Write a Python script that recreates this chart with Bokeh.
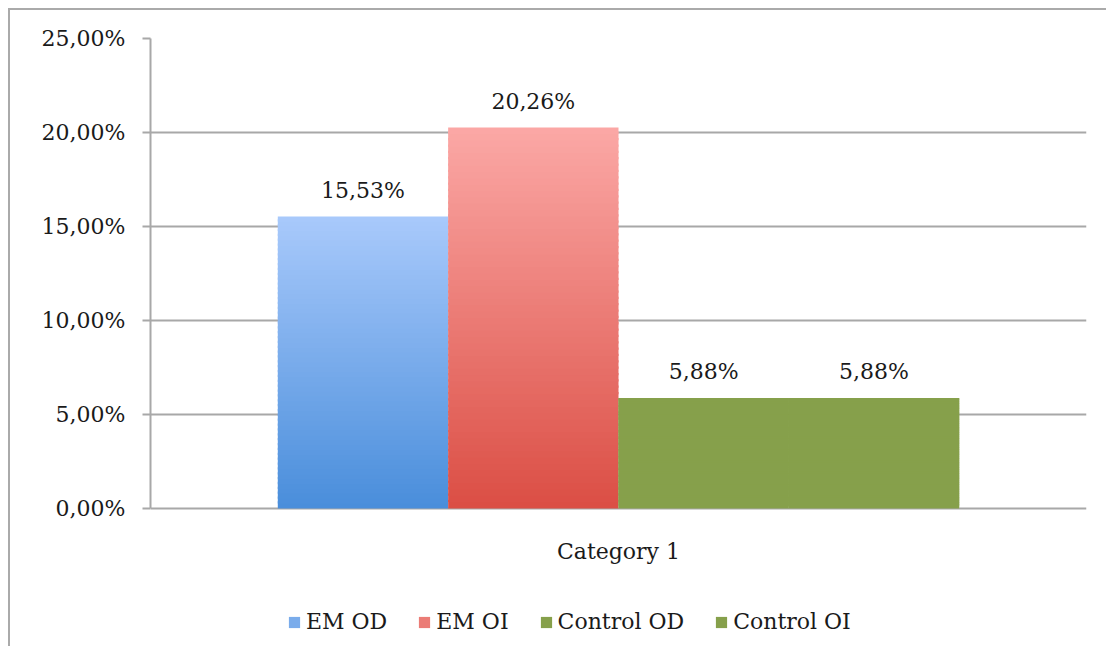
import numpy as np
from bokeh.plotting import figure
from bokeh.models import FactorRange, Range1d, FixedTicker, Legend, LegendItem, ColumnDataSource
from bokeh.transform import dodge
from bokeh.core.properties import value
from bokeh.embed import file_html
from bokeh.resources import INLINE

# ---- data ----
categories = ["Category 1"]
series = ["EM OD", "EM OI", "Control OD", "Control OI"]
values = [0.1553, 0.2026, 0.0588, 0.0588]
value_labels = ["15,53%", "20,26%", "5,88%", "5,88%"]
y_ticks = [0.0, 0.05, 0.10, 0.15, 0.20, 0.25]
y_tick_labels = ["0,00%", "5,00%", "10,00%", "15,00%", "20,00%", "25,00%"]

# ---- style / layout ----
bottom_colors = ["#4a8edb", "#db4f45", "#86a04b", "#86a04b"]
top_colors = ["#a8c9fb", "#fba7a5", "#86a04b", "#86a04b"]
FONT = "DejaVu Serif"
FS = "22px"
TXT = "#1a1a1a"
GRID = "#a8a8a8"
BAR_W = 0.182
offsets = [-1.5 * BAR_W, -0.5 * BAR_W, 0.5 * BAR_W, 1.5 * BAR_W]
N = 60
OVERLAP = 0.0012
Y_MIN = -0.0745   # space below the zero line for category label + legend


def hex2rgb(h):
    h = h.lstrip("#")
    return np.array([int(h[i:i + 2], 16) for i in (0, 2, 4)], dtype=float)


def mix(c0, c1, t):
    a, b = hex2rgb(c0), hex2rgb(c1)
    c = a + (b - a) * t
    return "#%02x%02x%02x" % tuple(int(round(v)) for v in c)


p = figure(
    width=1098, height=638,
    x_range=FactorRange(*categories, range_padding=0),
    y_range=Range1d(Y_MIN, y_ticks[-1]),
    x_axis_location=None,
    output_backend="svg", toolbar_location=None,
    min_border_left=140, min_border_right=22, min_border_top=28, min_border_bottom=0,
)
p.styles = {"border-left": "2px solid #aaaaaa", "border-top": "2px solid #aaaaaa",
            "margin-left": "8px", "margin-top": "8px"}
p.outline_line_color = None
p.background_fill_color = "white"
p.border_fill_color = "white"

# grid
p.xgrid.grid_line_color = None
p.ygrid.grid_line_color = GRID
p.ygrid.grid_line_width = 2
p.ygrid.ticker = FixedTicker(ticks=y_ticks)

# y axis
p.yaxis.ticker = FixedTicker(ticks=y_ticks)
p.yaxis.bounds = (y_ticks[0], y_ticks[-1])
p.yaxis.major_label_overrides = {t: l for t, l in zip(y_ticks, y_tick_labels)}
p.yaxis.axis_line_color = GRID
p.yaxis.axis_line_width = 2
p.yaxis.major_tick_line_color = GRID
p.yaxis.major_tick_line_width = 2
p.yaxis.major_tick_out = 8
p.yaxis.major_tick_in = 0
p.yaxis.minor_tick_line_color = None
p.yaxis.major_label_standoff = 17
p.yaxis.major_label_text_font = FONT
p.yaxis.major_label_text_font_size = FS
p.yaxis.major_label_text_color = TXT

items = []
for i, s in enumerate(series):
    v = values[i]
    edges = np.linspace(0, v, N + 1)
    cols = [mix(bottom_colors[i], top_colors[i], k / (N - 1)) for k in range(N)]
    src = ColumnDataSource(dict(
        x=[categories[0]] * N,
        bottom=edges[:-1],
        top=np.minimum(edges[1:] + OVERLAP, v),
        color=cols,
    ))
    r = p.vbar(x=dodge("x", offsets[i], range=p.x_range), width=BAR_W,
               bottom="bottom", top="top", source=src,
               fill_color="color", line_color=None)
    items.append(LegendItem(label=s, renderers=[r], index=N // 2))

    lsrc = ColumnDataSource(dict(x=[categories[0]], y=[v], t=[value_labels[i]]))
    p.text(x=dodge("x", offsets[i], range=p.x_range), y="y", text="t", source=lsrc,
           text_align="center", text_baseline="bottom", y_offset=-14,
           text_font=value(FONT), text_font_size=FS, text_color=TXT)

# category (x) label under the zero line
csrc = ColumnDataSource(dict(x=categories, y=[y_ticks[0]] * len(categories), t=categories))
p.text(x="x", y="y", text="t", source=csrc, text_align="center", text_baseline="middle",
       y_offset=43, text_font=value(FONT), text_font_size=FS, text_color=TXT)

legend = Legend(items=items, orientation="horizontal", location=(137, 14))
legend.border_line_color = None
legend.background_fill_alpha = 0
legend.padding = 0
legend.margin = 0
legend.spacing = 30
legend.glyph_width = 14
legend.glyph_height = 14
legend.label_standoff = 5
legend.label_text_font = FONT
legend.label_text_font_size = FS
legend.label_text_color = TXT
p.add_layout(legend, "center")

open("out.html", "w").write(file_html(p, INLINE))
